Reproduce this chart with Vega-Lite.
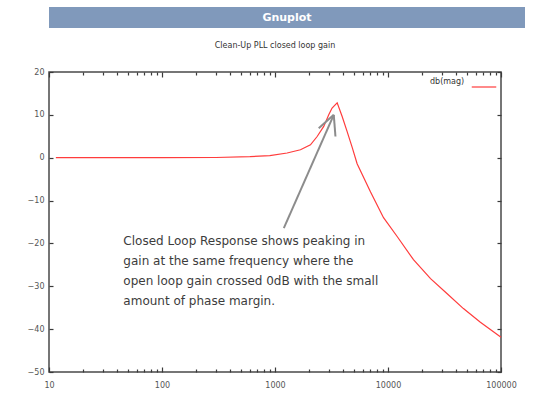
{
  "$schema": "https://vega.github.io/schema/vega-lite/v6.json",
  "background": "white",
  "padding": {"left": 10, "top": 7, "right": 0, "bottom": 0},
  "config": {
    "font": "DejaVu Sans",
    "view": {"stroke": "#4a4a4a", "strokeWidth": 1.5},
    "axis": {"grid": false, "domain": false, "labelFont": "DejaVu Sans", "labelFontSize": 8, "labelColor": "#555555", "tickColor": "#3a3a3a", "tickWidth": 1.2, "title": null}
  },
  "datasets": {
    "window": [{"label": "Gnuplot"}],
    "curve": [
      {"freq": 11.5, "db": 0}, {"freq": 100, "db": 0}, {"freq": 300, "db": 0.05}, {"freq": 600, "db": 0.25},
      {"freq": 900, "db": 0.5}, {"freq": 1280, "db": 1.1}, {"freq": 1680, "db": 1.85}, {"freq": 2060, "db": 3.0},
      {"freq": 2360, "db": 4.95}, {"freq": 2700, "db": 7.3}, {"freq": 2990, "db": 10.0}, {"freq": 3200, "db": 11.6},
      {"freq": 3550, "db": 12.8}, {"freq": 3930, "db": 9.6}, {"freq": 4350, "db": 6.1}, {"freq": 4820, "db": 2.4},
      {"freq": 5330, "db": -1.4}, {"freq": 7010, "db": -8.0}, {"freq": 9130, "db": -14.0}, {"freq": 12140, "db": -18.5},
      {"freq": 16800, "db": -23.8}, {"freq": 23800, "db": -28.2}, {"freq": 33600, "db": -31.8}, {"freq": 46500, "db": -35.2},
      {"freq": 65700, "db": -38.4}, {"freq": 100000, "db": -41.9}
    ],
    "arrow": [
      {"fx": 1197, "gy": -16.45, "fx2": 3311, "gy2": 10.0},
      {"fx": 3311, "gy": 10.0, "fx2": 2438, "gy2": 6.9},
      {"fx": 3311, "gy": 10.0, "fx2": 3428, "gy2": 4.95}
    ],
    "note": [
      {"freq": 45.5, "db": -20.35, "note": "Closed Loop Response shows peaking in\ngain at the same frequency where the\nopen loop gain crossed 0dB with the small\namount of phase margin."}
    ]
  },
  "spacing": 13,
  "resolve": {"legend": {"color": "independent"}, "scale": {"color": "independent"}},
  "vconcat": [
    {
      "width": 476,
      "height": 21,
      "view": {"fill": "#8099bb", "stroke": null},
      "data": {"name": "window"},
      "mark": {"type": "text", "color": "white", "fontWeight": "bold", "fontSize": 11, "font": "DejaVu Sans"},
      "encoding": {"text": {"field": "label"}}
    },
    {
      "width": 452,
      "height": 300,
      "title": {"text": "Clean-Up PLL closed loop gain", "fontSize": 8, "fontWeight": "normal", "color": "#333333", "frame": "group", "offset": 18},
      "layer": [
        {
          "data": {"name": "curve"},
          "mark": {"type": "line", "strokeWidth": 1.2},
          "encoding": {
            "x": {
              "field": "freq", "type": "quantitative",
              "scale": {"type": "log", "domain": [10, 100000], "nice": false},
              "axis": {
                "orient": "bottom",
                "values": [10,20,30,40,50,60,70,80,90,100,200,300,400,500,600,700,800,900,1000,2000,3000,4000,5000,6000,7000,8000,9000,10000,20000,30000,40000,50000,60000,70000,80000,90000,100000],
                "labelExpr": "indexof([10,100,1000,10000,100000], datum.value) >= 0 ? format(datum.value, 'd') : ''",
                "labelOverlap": false,
                "labelFlush": false,
                "tickSize": {"condition": {"test": "indexof([10,100,1000,10000,100000], datum.value) >= 0", "value": -5}, "value": -3},
                "labelPadding": 14
              }
            },
            "y": {
              "field": "db", "type": "quantitative",
              "scale": {"domain": [-50, 20], "nice": false},
              "axis": {"orient": "left", "values": [-50,-40,-30,-20,-10,0,10,20], "format": "d", "tickSize": -4, "labelPadding": 9, "minExtent": 38}
            },
            "color": {
              "datum": "db(mag)", "type": "nominal",
              "scale": {"range": ["#ff3c3c"]},
              "legend": {"title": "db(mag)", "titleOrient": "left", "titleFontSize": 8, "titleFontWeight": "normal", "titleColor": "#333333", "titleFont": "DejaVu Sans", "titlePadding": 6, "titleBaseline": "middle", "titleAnchor": "middle", "labelExpr": "''", "labelFontSize": 1, "labelOffset": 0, "orient": "top-right", "offset": 2, "symbolType": "stroke", "symbolSize": 600, "symbolStrokeWidth": 1.2, "padding": 0}
            }
          }
        },
        {
          "data": {"name": "arrow"},
          "mark": {"type": "rule", "color": "#8c8c8c", "strokeWidth": 2},
          "encoding": {
            "x": {
              "field": "fx", "type": "quantitative",
              "scale": {"type": "log", "domain": [10, 100000], "nice": false},
              "axis": {
                "orient": "top",
                "values": [10,20,30,40,50,60,70,80,90,100,200,300,400,500,600,700,800,900,1000,2000,3000,4000,5000,6000,7000,8000,9000,10000,20000,30000,40000,50000,60000,70000,80000,90000,100000],
                "labels": false,
                "minExtent": 0,
                "tickSize": {"condition": {"test": "indexof([10,100,1000,10000,100000], datum.value) >= 0", "value": -5}, "value": -3}
              }
            },
            "y": {
              "field": "gy", "type": "quantitative",
              "scale": {"domain": [-50, 20], "nice": false},
              "axis": {"orient": "right", "values": [-50,-40,-30,-20,-10,0,10,20], "labels": false, "tickSize": -4, "minExtent": 0}
            },
            "x2": {"field": "fx2"},
            "y2": {"field": "gy2"}
          }
        },
        {
          "data": {"name": "note"},
          "mark": {"type": "text", "align": "left", "baseline": "alphabetic", "fontSize": 12, "lineHeight": 20, "lineBreak": "\n", "color": "#3c3c3c", "font": "DejaVu Sans"},
          "encoding": {
            "x": {"field": "freq", "type": "quantitative", "scale": {"type": "log", "domain": [10, 100000], "nice": false}, "axis": null},
            "y": {"field": "db", "type": "quantitative", "scale": {"domain": [-50, 20], "nice": false}, "axis": null},
            "text": {"field": "note"}
          }
        }
      ],
      "resolve": {"axis": {"x": "independent", "y": "independent"}}
    }
  ]
}
